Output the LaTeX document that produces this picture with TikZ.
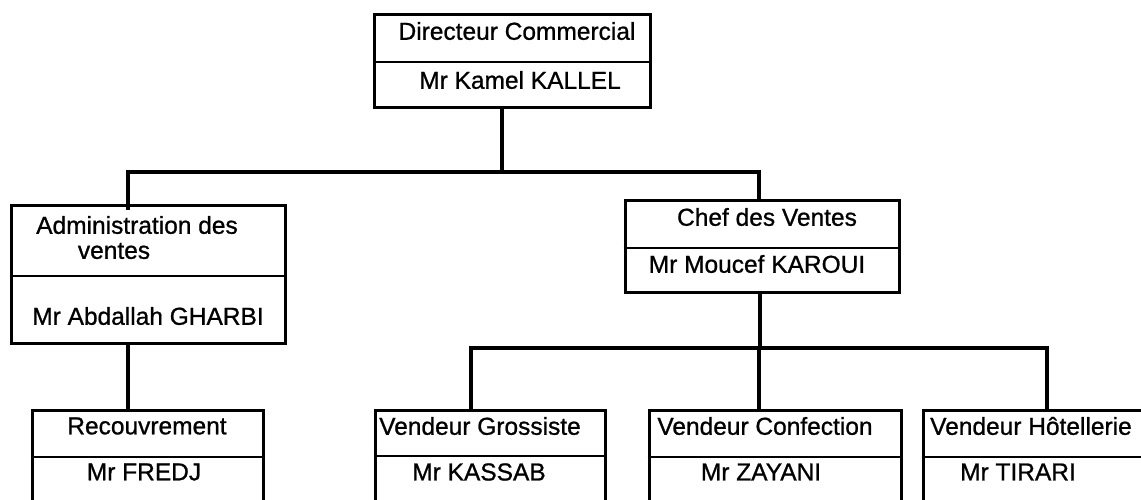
\documentclass[tikz,border=0pt]{standalone}
\usepackage{fontspec}
\setmainfont{Liberation Sans}[FakeBold=0.9]
\begin{document}
\begin{tikzpicture}[x=1pt,y=-1pt,
  box/.style={draw,line width=3pt,rectangle,inner sep=0pt},
  divider/.style={line width=2.4pt},
  conn/.style={line width=3.4pt},
  txt/.style={inner sep=0pt,font=\fontsize{24.5}{28}\selectfont}]
\useasboundingbox (0,0) rectangle (1141,499);
\clip (0,0) rectangle (1141,499);
% boxes
\node[box,minimum width=276pt,minimum height=93pt] (dc) at (512,60.5) {};
\node[box,minimum width=274pt,minimum height=138pt] (adm) at (148,274) {};
\node[box,minimum width=274pt,minimum height=92pt] (chef) at (762,246) {};
\node[box,minimum width=231pt,minimum height=120pt] (rec) at (147.5,470) {};
\node[box,minimum width=230pt,minimum height=120pt] (gro) at (490,470) {};
\node[box,minimum width=252pt,minimum height=120pt] (conf) at (775,470) {};
\node[box,minimum width=249pt,minimum height=120pt] (hot) at (1047.5,470) {};
% dividers
\draw[divider] (dc.west |- 0,62) -- (dc.east |- 0,62);
\draw[divider] (adm.west |- 0,276) -- (adm.east |- 0,276);
\draw[divider] (chef.west |- 0,248) -- (chef.east |- 0,248);
\draw[divider] (rec.west |- 0,457) -- (rec.east |- 0,457);
\draw[divider] (gro.west |- 0,456) -- (gro.east |- 0,456);
\draw[divider] (conf.west |- 0,457) -- (conf.east |- 0,457);
\draw[divider] (hot.west |- 0,457) -- (hot.east |- 0,457);
% texts
\node[txt] (t1) at (517,31) {Directeur Commercial};
\node[txt] (t2) at (520,80) {Mr Kamel KALLEL};
\node[txt] (t3) at (137,225) {Administration des};
\node[txt] (t4) at (114,251) {ventes};
\node[txt] (t5) at (148,316) {Mr Abdallah GHARBI};
\node[txt] (t6) at (767,217) {Chef des Ventes};
\node[txt] (t7) at (757,264) {Mr Moucef KAROUI};
\node[txt] (t8) at (147,426) {Recouvrement};
\node[txt] (t9) at (144,472) {Mr FREDJ};
\node[txt] (t10) at (480,426) {Vendeur Grossiste};
\node[txt] (t11) at (479,472) {Mr KASSAB};
\node[txt] (t12) at (765,426) {Vendeur Confection};
\node[txt] (t13) at (761,472) {Mr ZAYANI};
\node[txt] (t14) at (1031,426) {Vendeur H\^otellerie};
\node[txt] (t15) at (1018,472) {Mr TIRARI};
% connector anchors
\coordinate (busA) at (502,172);
\coordinate (busB) at (760,348);
\coordinate (dcOut) at ([xshift=-10pt]dc.south);
\coordinate (admIn) at ([xshift=-20pt,yshift=-6pt]adm.north);
\coordinate (admOut) at ([xshift=-20pt]adm.south);
\coordinate (chefIn) at ([xshift=-3pt]chef.north);
\coordinate (chefOut) at ([xshift=-2pt]chef.south);
\coordinate (recIn) at ([xshift=-19.5pt]rec.north);
\coordinate (groIn) at ([xshift=-19pt]gro.north);
\coordinate (confIn) at ([xshift=-16pt]conf.north);
\coordinate (hotIn) at ([xshift=-0.5pt]hot.north);
% connectors
\draw[conn] (dcOut) -- (busA);
\draw[conn] (admIn) -- (admIn |- busA) -- (chefIn |- busA) -- (chefIn);
\draw[conn] (admOut) -- (recIn);
\draw[conn] (chefOut) -- (busB);
\draw[conn] (groIn) -- (groIn |- busB) -- (hotIn |- busB) -- (hotIn);
\draw[conn] (confIn |- busB) -- (confIn);
\end{tikzpicture}
\end{document}
